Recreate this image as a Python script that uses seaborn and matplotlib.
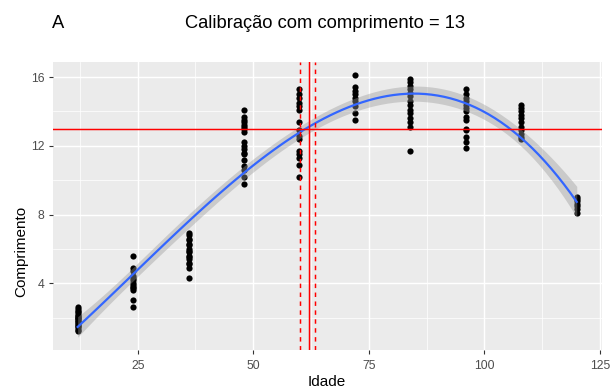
import numpy as np
import pandas as pd
import matplotlib
matplotlib.use("Agg")
import matplotlib.pyplot as plt
import seaborn as sns

# ---------------- data ----------------
ages = [12, 24, 36, 48, 60, 72, 84, 96, 108, 120]
len_12 = [1.2, 1.3, 1.4, 1.5, 1.5, 1.6, 1.7, 1.8, 1.8, 1.9, 2.0, 2.0, 2.1, 2.1, 2.2, 2.3, 2.4, 2.5, 2.6]
len_24 = [5.6, 4.9, 4.7, 4.4, 4.3, 4.2, 4.0, 3.9, 3.8, 3.7, 3.6, 3.0, 2.6]
len_36 = [6.9, 6.8, 6.6, 6.5, 6.3, 6.2, 6.0, 5.9, 5.8, 5.6, 5.5, 5.4, 5.2, 5.1, 4.9, 4.3]
len_48 = [14.1, 13.7, 13.5, 13.4, 13.2, 13.1, 13.0, 12.8, 12.2, 12.0, 11.8, 11.6, 11.5, 11.2, 10.8, 10.6, 10.2, 9.8]
len_60 = [15.3, 15.0, 14.8, 14.5, 14.3, 14.1, 13.4, 12.9, 12.6, 12.4, 11.7, 11.5, 11.3, 10.9, 10.2]
len_72 = [16.1, 15.4, 15.2, 15.0, 14.8, 14.6, 14.3, 13.9, 13.5]
len_84 = [15.9, 15.7, 15.5, 15.3, 15.1, 14.9, 14.6, 14.4, 14.1, 13.9, 13.6, 13.4, 13.1, 11.7]
len_96 = [15.3, 15.0, 14.8, 14.6, 14.4, 14.2, 14.0, 13.7, 13.5, 13.0, 12.9, 12.5, 12.2, 11.9]
len_108 = [14.4, 14.2, 14.0, 13.8, 13.6, 13.4, 13.1, 12.9, 12.7, 12.5, 12.4]
len_120 = [9.0, 8.9, 8.8, 8.6, 8.5, 8.3, 8.1]

calib_y = 13
calib_x = 62.0
calib_lo = 60.2
calib_hi = 63.4

title = "Calibração com comprimento = 13"
tag = "A"
xlabel = "Idade"
ylabel = "Comprimento"
xticks = [25, 50, 75, 100, 125]
yticks = [4, 8, 12, 16]

groups = [len_12, len_24, len_36, len_48, len_60, len_72, len_84, len_96, len_108, len_120]
df = pd.DataFrame({
    "Idade": np.concatenate([[a] * len(g) for a, g in zip(ages, groups)]).astype(float),
    "Comprimento": np.concatenate(groups),
})

# ---------------- cubic polynomial smooth with 95% CI ----------------
x = df["Idade"].values
y = df["Comprimento"].values
xc, xsc = x.mean(), (x.max() - x.min()) / 2
def design(v):
    u = (v - xc) / xsc
    return np.column_stack([np.ones_like(u), u, u ** 2, u ** 3])
X = design(x)
beta, *_ = np.linalg.lstsq(X, y, rcond=None)
res = y - X @ beta
dof = len(y) - X.shape[1]
sigma2 = np.sum(res ** 2) / dof
cov = sigma2 * np.linalg.inv(X.T @ X)
xs = np.linspace(x.min(), x.max(), 80)
Xe = design(xs)
fit = Xe @ beta
se = np.sqrt(np.einsum("ij,jk,ik->i", Xe, cov, Xe))
tq = 1.976
lo, hi = fit - tq * se, fit + tq * se
smooth = pd.DataFrame({"Idade": xs, "fit": fit})

# ---------------- plot ----------------
W, H = 613, 390
fig = plt.figure(figsize=(W / 100, H / 100), dpi=100)
plt.rcParams["font.family"] = ["Liberation Sans", "DejaVu Sans"]
left, right, top, bottom = 52.7, 601.7, 62.3, 350.3
ax = fig.add_axes([left / W, 1 - bottom / H, (right - left) / W, (bottom - top) / H])
ax.set_facecolor("#EBEBEB")

sns.scatterplot(data=df, x="Idade", y="Comprimento", color="black", s=20,
                linewidth=0, ax=ax, zorder=3)
ax.fill_between(xs, lo, hi, color="#999999", alpha=0.4, linewidth=0, zorder=4)
sns.lineplot(data=smooth, x="Idade", y="fit", color="#3366FF", linewidth=1.6,
             ax=ax, zorder=5)
ax.axhline(calib_y, color="red", lw=1.07, zorder=6)
ax.axvline(calib_x, color="red", lw=1.07, zorder=6)
for v in (calib_lo, calib_hi):
    ax.axvline(v, color="red", lw=1.07, ls=(0, (3, 3)), zorder=6)

xr = x.max() - x.min()
ax.set_xlim(x.min() - 0.05 * xr, x.max() + 0.05 * xr)
ymin = min(y.min(), lo.min()); ymax = max(y.max(), hi.max())
yr = ymax - ymin
ax.set_ylim(ymin - 0.05 * yr, ymax + 0.05 * yr)

ax.set_xticks(xticks)
ax.set_yticks(yticks)
ax.set_xticks([12.5, 37.5, 62.5, 87.5, 112.5], minor=True)
ax.set_yticks([2, 6, 10, 14], minor=True)
ax.grid(which="major", color="white", lw=1.07, zorder=0)
ax.grid(which="minor", color="white", lw=0.53, zorder=0)
ax.set_axisbelow(True)
for s in ax.spines.values():
    s.set_visible(False)
ax.tick_params(which="major", length=2.75, width=0.8, color="#333333",
               labelcolor="#4D4D4D", labelsize=8.8)
ax.tick_params(axis="x", pad=4.5)
ax.tick_params(axis="y", pad=3.2)
ax.tick_params(which="minor", length=0)
ax.set_xlabel("")
ax.set_ylabel("")

fig.text((left + right) / 2 / W, 1 - 386 / H, xlabel, ha="center", va="baseline",
         fontsize=11, color="black")
fig.text(21 / W, 1 - (top + bottom) / 2 / H, ylabel, ha="right", va="center",
         rotation=90, rotation_mode="anchor", fontsize=11, color="black")
fig.text(325 / W, 1 - 28.3 / H, title, ha="center", va="baseline", fontsize=13.2)
fig.text(51.7 / W, 1 - 28.3 / H, tag, ha="left", va="baseline", fontsize=13.2)

fig.savefig("out.png", dpi=100, facecolor="white")
